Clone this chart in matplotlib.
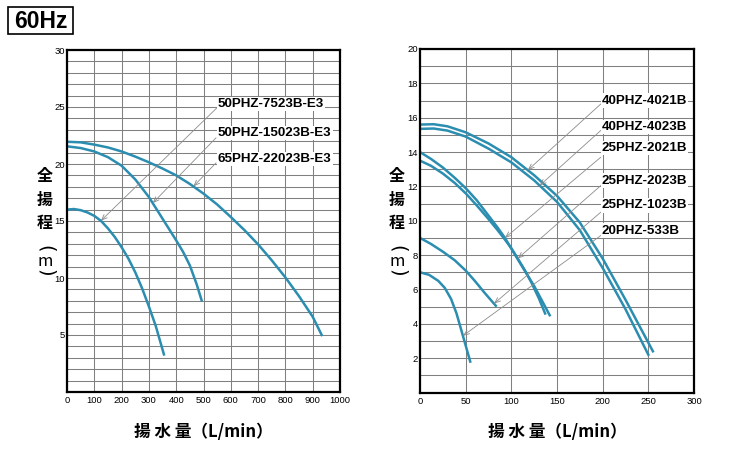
import numpy as np
import matplotlib
matplotlib.use('Agg')
import matplotlib.pyplot as plt
from matplotlib import font_manager
from matplotlib.patches import Rectangle

# --- left chart (flow L/min, head m) ---
flow_7523 = [0, 25, 50, 75, 100, 125, 150, 175, 200, 225, 250, 275, 300, 325, 355]
head_7523 = [16.0, 16.05, 15.95, 15.75, 15.45, 15.0, 14.35, 13.6, 12.7, 11.7, 10.5, 9.1, 7.5, 5.8, 3.3]

flow_15023 = [0, 50, 100, 150, 200, 250, 300, 350, 400, 425, 450, 475, 493]
head_15023 = [21.55, 21.4, 21.1, 20.6, 19.85, 18.65, 17.1, 15.2, 13.3, 12.3, 11.1, 9.45, 8.05]

flow_22023 = [0, 50, 100, 150, 200, 250, 300, 350, 400, 450, 500, 550, 600, 650, 700, 750, 800, 850, 900, 933]
head_22023 = [21.95, 21.9, 21.7, 21.45, 21.1, 20.65, 20.15, 19.6, 19.0, 18.25, 17.4, 16.45, 15.35, 14.2,
              12.95, 11.55, 10.05, 8.4, 6.6, 5.0]

# --- right chart ---
flow_4021 = [0, 15, 30, 50, 75, 100, 125, 150, 175, 200, 225, 255]
head_4021 = [15.6, 15.62, 15.5, 15.15, 14.5, 13.7, 12.65, 11.45, 9.9, 7.8, 5.4, 2.4]

flow_4023 = [0, 15, 30, 50, 75, 100, 125, 150, 175, 200, 225, 250]
head_4023 = [15.35, 15.37, 15.25, 14.9, 14.2, 13.4, 12.35, 11.1, 9.45, 7.25, 4.85, 2.2]

flow_2021 = [0, 12, 25, 38, 50, 62, 75, 85, 93, 102, 110, 118, 125, 134, 142]
head_2021 = [14.0, 13.6, 13.1, 12.5, 11.9, 11.2, 10.3, 9.6, 9.0, 8.2, 7.5, 6.8, 6.2, 5.3, 4.5]

flow_2023 = [0, 12, 25, 38, 50, 62, 75, 85, 93, 100, 107, 115, 122, 130, 137]
head_2023 = [13.5, 13.2, 12.75, 12.2, 11.6, 10.9, 10.1, 9.45, 8.9, 8.4, 7.8, 7.1, 6.4, 5.5, 4.6]

flow_1023 = [0, 12, 25, 38, 50, 60, 70, 83]
head_1023 = [9.0, 8.65, 8.2, 7.7, 7.1, 6.5, 5.85, 5.05]

flow_533 = [0, 10, 20, 27, 34, 40, 47, 55]
head_533 = [7.0, 6.85, 6.5, 6.1, 5.45, 4.6, 3.3, 1.8]

left_names = ['50PHZ-7523B-E3', '50PHZ-15023B-E3', '65PHZ-22023B-E3']
right_names = ['40PHZ-4021B', '40PHZ-4023B', '25PHZ-2021B', '25PHZ-2023B', '25PHZ-1023B', '20PHZ-533B']

left_xticks = list(range(0, 1001, 100))
left_ylabels = [5, 10, 15, 20, 25, 30]
right_xticks = list(range(0, 301, 50))
right_ylabels = [2, 4, 6, 8, 10, 12, 14, 16, 18, 20]

names = {f.name for f in font_manager.fontManager.ttflist}
if 'Liberation Sans Narrow' in names:
    narrow, lab_fs, tick_fs = 'Liberation Sans Narrow', 11.5, 7.3
else:
    narrow, lab_fs, tick_fs = 'Liberation Sans', 9.6, 6.8
cjk = ['Noto Sans CJK JP', 'DejaVu Sans']

CURVE = '#2b8db0'
GRID = '#808080'
LEAD = '#8c8c8c'

fig = plt.figure(figsize=(7.34, 4.5), dpi=100)
W, H = 734, 450


def setup(ax, xmax, xticks, ymax, ylabels):
    ax.set_xlim(0, xmax)
    ax.set_ylim(0, ymax)
    ax.set_xticks(xticks)
    ax.set_xticklabels([str(v) for v in xticks], family=narrow, fontsize=tick_fs)
    yt = list(range(0, ymax + 1))
    ax.set_yticks(yt)
    ax.set_yticklabels([str(v) if v in ylabels else '' for v in yt], family=narrow, fontsize=tick_fs)
    ax.tick_params(axis='x', length=0, pad=3)
    ax.tick_params(axis='y', length=0, pad=1.5)
    ax.grid(True, color=GRID, lw=0.75)
    ax.set_axisbelow(True)
    for s in ax.spines.values():
        s.set_linewidth(1.6)
        s.set_color('black')


def leader(ax, text, txy, start, tipx, fx, fy):
    tip = (tipx, np.interp(tipx, fx, fy))
    ax.annotate('', xy=tip, xytext=start,
                arrowprops=dict(arrowstyle='->,head_length=0.5,head_width=0.2', color=LEAD,
                                lw=0.6, shrinkA=0, shrinkB=0, mutation_scale=8), zorder=3)
    ax.text(txy[0], txy[1], text, ha='left', va='center', family=narrow, fontweight='bold',
            fontsize=lab_fs, zorder=4,
            bbox=dict(boxstyle='square,pad=0.08', fc='white', ec='none'))


axL = fig.add_axes([67 / W, 1 - 392 / H, 273 / W, 342 / H])
setup(axL, 1000, left_xticks, 30, left_ylabels)
for fx, fy in [(flow_7523, head_7523), (flow_15023, head_15023), (flow_22023, head_22023)]:
    axL.plot(fx, fy, color=CURVE, lw=1.8, solid_joinstyle='round')
leader(axL, left_names[0], (553, 25.3), (548, 24.9), 124, flow_7523, head_7523)
leader(axL, left_names[1], (553, 22.75), (546, 22.3), 314, flow_15023, head_15023)
leader(axL, left_names[2], (553, 20.45), (546, 20.1), 463, flow_22023, head_22023)

axR = fig.add_axes([420 / W, 1 - 392.5 / H, 274 / W, 343.5 / H])
setup(axR, 300, right_xticks, 20, right_ylabels)
for fx, fy in [(flow_4021, head_4021), (flow_4023, head_4023), (flow_2021, head_2021),
               (flow_2023, head_2023), (flow_1023, head_1023), (flow_533, head_533)]:
    axR.plot(fx, fy, color=CURVE, lw=1.8, solid_joinstyle='round')
leader(axR, right_names[0], (199, 17.0), (198, 16.8), 118, flow_4021, head_4021)
leader(axR, right_names[1], (199, 15.46), (198, 15.26), 131, flow_4023, head_4023)
leader(axR, right_names[2], (199, 14.23), (198, 13.7), 93, flow_2021, head_2021)
leader(axR, right_names[3], (199, 12.34), (198, 12.05), 107, flow_2023, head_2023)
leader(axR, right_names[4], (199, 10.89), (198, 10.5), 81, flow_1023, head_1023)
leader(axR, right_names[5], (199, 9.43), (198, 9.14), 47, flow_533, head_533)

# vertical y-axis labels: 全揚程 stacked, (m) with the brackets turned sideways
for x0 in (45, 397):
    for ch, py in zip(['全', '揚', '程'], [176, 200, 223]):
        fig.text(x0 / W, 1 - py / H, ch, ha='center', va='center', family=cjk,
                 fontweight='bold', fontsize=11.5)
    fig.text(x0 / W, 1 - 249 / H, '(', ha='center', va='center', family='DejaVu Sans',
             fontsize=14, rotation=-90)
    fig.text(x0 / W, 1 - 261 / H, 'm', ha='center', va='center', family=cjk, fontsize=12)
    fig.text(x0 / W, 1 - 273 / H, ')', ha='center', va='center', family='DejaVu Sans',
             fontsize=14, rotation=-90)

# x-axis labels
for xc in (203.5, 557):
    fig.text(xc / W, 1 - 432 / H, '揚 水 量（L/min）', ha='center', va='center', family=cjk,
             fontweight='bold', fontsize=12)

# "60Hz" tag
fig.add_artist(Rectangle((8 / W, 1 - 34 / H), 65 / W, 27 / H, transform=fig.transFigure,
                         fill=False, ec='black', lw=1.2))
fig.text(40.5 / W, 1 - 21 / H, '60Hz', ha='center', va='center', family='Liberation Sans',
         fontweight='bold', fontsize=16.5)

fig.savefig('out.png', dpi=100)
